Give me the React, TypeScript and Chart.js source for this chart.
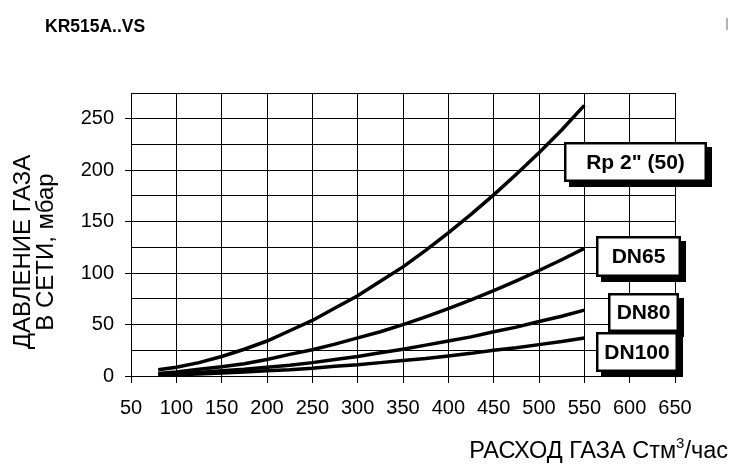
import React, { useEffect, useRef } from "react";
import { Chart, registerables } from "chart.js";

Chart.register(...registerables);

const TITLE = "KR515A..VS";
const X_TITLE_MAIN = "РАСХОД ГАЗА Стм";
const X_TITLE_SUP = "3";
const X_TITLE_END = "/час";
const Y_TITLE = ["ДАВЛЕНИЕ ГАЗА", "В СЕТИ, мбар"];

const flow = [80, 100, 125, 150, 175, 200, 225, 250, 275, 300, 325, 350, 375, 400, 425, 450, 475, 500, 525, 550];
const rp50 = [6, 8.5, 13, 19, 26, 34, 44, 54, 66, 78, 92, 106, 122, 139, 157, 176, 196, 217, 239, 263];
const dn65 = [2.5, 4, 6.5, 9, 12, 16, 21, 25.5, 31, 37, 43, 50, 57.5, 65.5, 74, 83, 92.5, 102.5, 113, 124];
const dn80 = [1.5, 2, 3.5, 5, 6.5, 8.5, 10.5, 13, 16, 19, 22.5, 26, 30, 34, 38, 43, 47.5, 53, 58, 64];
const dn100 = [1, 1.2, 2, 2.8, 3.8, 5, 6, 7.5, 9.5, 11, 13, 15, 17, 19.5, 22, 25, 27.5, 30.5, 33.5, 37];
const seriesLabels = ['Rp 2" (50)', "DN65", "DN80", "DN100"];
const seriesValues = [rp50, dn65, dn80, dn100];

const FONT = '"Liberation Sans", Arial, sans-serif';

// label boxes: [left, top, right, bottom] in pixels
const BOXES: number[][] = [
  [564, 142, 707, 182],
  [596, 236, 681, 277],
  [608, 293, 679, 332],
  [596, 332, 678, 372],
];

const decor = {
  id: "decor",
  afterDraw(chart: any) {
    const ctx = chart.ctx as CanvasRenderingContext2D;
    ctx.save();
    ctx.fillStyle = "#000";

    // title
    ctx.font = `bold 17.5px ${FONT}`;
    ctx.textAlign = "left";
    ctx.textBaseline = "alphabetic";
    ctx.fillText(TITLE, 45, 32);

    // small mark top right
    ctx.strokeStyle = "#999";
    ctx.lineWidth = 1.5;
    ctx.beginPath();
    ctx.moveTo(727, 18);
    ctx.lineTo(727, 30);
    ctx.stroke();

    // y axis title
    ctx.save();
    ctx.translate(0, 252);
    ctx.rotate(-Math.PI / 2);
    ctx.font = `24px ${FONT}`;
    ctx.textAlign = "center";
    ctx.textBaseline = "alphabetic";
    ctx.fillText(Y_TITLE[0], 0, 29.5);
    ctx.fillText(Y_TITLE[1], 0, 52.5);
    ctx.restore();

    // x axis title (right aligned at 728)
    ctx.font = `23.5px ${FONT}`;
    const wEnd = ctx.measureText(X_TITLE_END).width;
    ctx.font = `15px ${FONT}`;
    const wSup = ctx.measureText(X_TITLE_SUP).width;
    ctx.font = `23.5px ${FONT}`;
    const wMain = ctx.measureText(X_TITLE_MAIN).width;
    const right = 728;
    const base = 458;
    const x0 = right - wEnd - wSup - wMain;
    ctx.textAlign = "left";
    ctx.fillText(X_TITLE_MAIN, x0, base);
    ctx.font = `15px ${FONT}`;
    ctx.fillText(X_TITLE_SUP, x0 + wMain, base - 10);
    ctx.font = `23.5px ${FONT}`;
    ctx.fillText(X_TITLE_END, x0 + wMain + wSup, base);

    // label boxes
    BOXES.forEach((b, i) => {
      const [l, t, r, btm] = b;
      ctx.fillStyle = "#000";
      ctx.fillRect(l + 5, t + 5, r - l, btm - t);
      ctx.fillStyle = "#fff";
      ctx.fillRect(l, t, r - l, btm - t);
      ctx.strokeStyle = "#000";
      ctx.lineWidth = 2.5;
      ctx.strokeRect(l + 1.25, t + 1.25, r - l - 2.5, btm - t - 2.5);
      ctx.fillStyle = "#000";
      ctx.font = `bold 21px ${FONT}`;
      ctx.textAlign = "center";
      ctx.textBaseline = "middle";
      ctx.fillText(seriesLabels[i], (l + r) / 2, (t + btm) / 2 + 1);
      ctx.textBaseline = "alphabetic";
    });
    ctx.restore();
  },
};

export default function App() {
  const ref = useRef<HTMLCanvasElement>(null);
  useEffect(() => {
    const prevMargin = document.body.style.margin;
    document.body.style.margin = "0";
    const canvas = ref.current!;
    const chart = new Chart(canvas, {
      type: "line",
      data: {
        datasets: seriesValues.map((vals, i) => ({
          label: seriesLabels[i],
          data: flow.map((f, j) => ({ x: f, y: vals[j] })),
          borderColor: "#000",
          borderWidth: 3.5,
          pointRadius: 0,
          tension: 0,
          fill: false,
        })),
      },
      options: {
        animation: false,
        responsive: false,
        maintainAspectRatio: false,
        devicePixelRatio: 1,
        layout: { padding: { top: 93, right: 56, left: 0, bottom: 0 } },
        plugins: {
          legend: { display: false },
          tooltip: { enabled: false },
          title: { display: false },
        },
        scales: {
          x: {
            type: "linear",
            min: 50,
            max: 650,
            ticks: {
              stepSize: 50,
              color: "#000",
              font: { family: FONT, size: 20 },
              padding: 13,
              autoSkip: false,
              maxRotation: 0,
            },
            grid: { color: "#000", lineWidth: 1, tickLength: 7, tickColor: "#000" },
            border: { color: "#000", width: 1 },
            afterFit: (s: any) => {
              s.height = 91;
            },
          },
          y: {
            min: 0,
            max: 275,
            ticks: {
              stepSize: 25,
              color: "#000",
              font: { family: FONT, size: 20 },
              padding: 11,
              autoSkip: false,
              callback: (v: any) => (Number(v) % 50 === 0 ? String(v) : ""),
            },
            grid: {
              color: "#000",
              lineWidth: 1,
              tickLength: 6,
              tickColor: (c: any) => (c.tick && c.tick.value % 50 === 0 ? "#000" : "rgba(0,0,0,0)"),
            },
            border: { color: "#000", width: 1 },
            afterFit: (s: any) => {
              s.width = 131;
            },
          },
        },
      },
      plugins: [decor],
    });
    return () => {
      chart.destroy();
      document.body.style.margin = prevMargin;
    };
  }, []);
  return (
    <div style={{ position: "absolute", left: 0, top: 0, width: 731, height: 467 }}>
      <canvas ref={ref} width={731} height={467} />
    </div>
  );
}
